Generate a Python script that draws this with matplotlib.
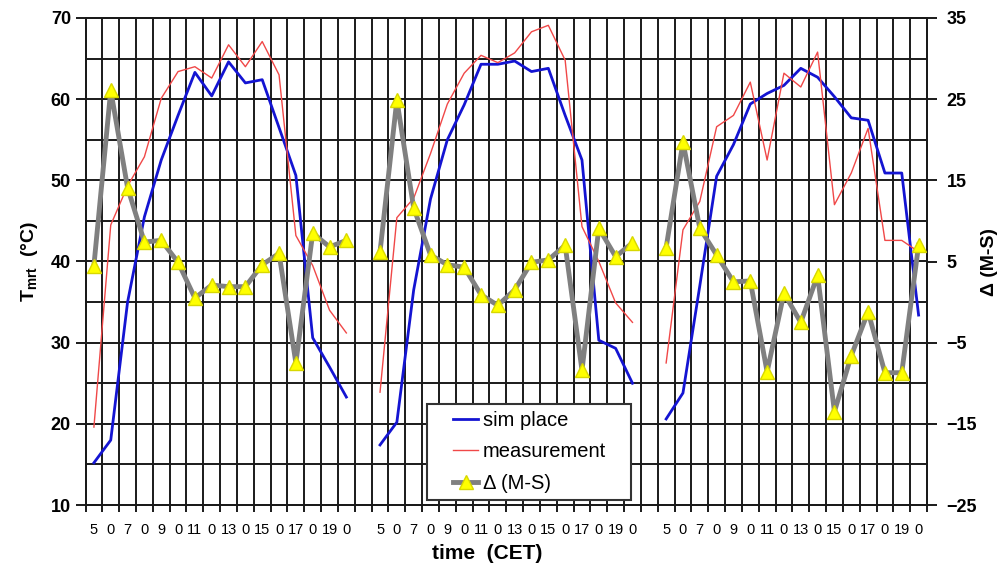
import numpy as np
import matplotlib
matplotlib.use('Agg')
from matplotlib import pyplot as plt
from matplotlib.legend_handler import HandlerLine2D

plt.rcParams['font.family'] = ['Liberation Sans', 'DejaVu Sans']
plt.rcParams['mathtext.fontset'] = 'custom'
plt.rcParams['mathtext.rm'] = 'Liberation Sans:bold'
plt.rcParams['mathtext.it'] = 'Liberation Sans:bold'
plt.rcParams['mathtext.bf'] = 'Liberation Sans:bold'

# hours 5..20 for each of the three days
hours = list(range(5, 21))
hour_labels = ['5', '0', '7', '0', '9', '0', '11', '0', '13', '0', '15', '0', '17', '0', '19', '0']

sim_day1 = [15.2, 18.0, 35.0, 45.5, 52.5, 58.0, 63.3, 60.4, 64.6, 62.0, 62.4, 56.5, 50.6, 30.6, 27.0, 23.3]
meas_day1 = [19.6, 44.5, 49.3, 52.9, 60.1, 63.4, 64.0, 62.6, 66.7, 64.0, 67.1, 63.0, 43.2, 39.5, 34.0, 31.2]
delta_day1 = [4.5, 26.1, 14.1, 7.4, 7.6, 4.9, 0.5, 2.1, 1.9, 1.9, 4.6, 6.0, -7.5, 8.5, 6.8, 7.6]

sim_day2 = [17.4, 20.2, 36.5, 47.7, 55.0, 59.3, 64.3, 64.3, 64.7, 63.4, 63.8, 58.0, 52.5, 30.3, 29.3, 25.0]
meas_day2 = [23.9, 45.4, 47.8, 53.3, 59.4, 63.2, 65.4, 64.5, 65.7, 68.3, 69.1, 64.8, 44.3, 40.0, 34.9, 32.5]
delta_day2 = [6.2, 24.9, 11.6, 5.8, 4.6, 4.3, 0.9, -0.4, 1.5, 4.9, 5.2, 7.0, -8.4, 9.1, 5.6, 7.3]

sim_day3 = [20.6, 23.8, 37.0, 50.5, 54.4, 59.4, 60.7, 61.7, 63.8, 62.7, 60.3, 57.7, 57.4, 50.9, 50.9, 33.4]
meas_day3 = [27.5, 43.9, 47.4, 56.6, 58.0, 62.1, 52.5, 63.2, 61.5, 65.8, 47.0, 50.9, 56.4, 42.6, 42.6, 41.2]
delta_day3 = [6.7, 19.7, 9.1, 5.8, 2.5, 2.6, -8.6, 1.1, -2.5, 3.3, -13.5, -6.6, -1.2, -8.7, -8.7, 7.0]

days = [(sim_day1, meas_day1, delta_day1),
        (sim_day2, meas_day2, delta_day2),
        (sim_day3, meas_day3, delta_day3)]

per_day = len(hours) + 1   # one empty slot between days
n_slots = 3 * per_day - 1


class ShiftedLine(HandlerLine2D):
    # legend line drawn a bit to the right of the handle box
    def create_artists(self, legend, orig_handle, xdescent, ydescent, width, height, fontsize, trans):
        shift = 14
        return super().create_artists(legend, orig_handle, xdescent - shift, ydescent,
                                      width - shift, height, fontsize, trans)


fig = plt.figure(figsize=(10.05, 5.64), dpi=100)
ax = fig.add_axes([85.5 / 1005, 59 / 564, 841.5 / 1005, 487 / 564])
ax2 = ax.twinx()

grid_kw = dict(color='#1a1a1a', linewidth=1.4)

for d, (sim, meas, delta) in enumerate(days):
    x = np.arange(len(hours)) + d * per_day
    l1, = ax.plot(x, sim, color='#1414d2', linewidth=2.0, zorder=3)
    l2, = ax.plot(x, meas, color='#f04848', linewidth=1.0, zorder=3)
    l3, = ax2.plot(x, delta, color='#808080', linewidth=3.5, marker='^',
                   markersize=10, markerfacecolor='#ffff00',
                   markeredgecolor='#d8d800', markeredgewidth=1.0, zorder=4)

ax.set_xlim(-0.5, n_slots - 0.5)
ax.set_ylim(10, 70)
ax2.set_ylim(-25, 35)

# x axis: labels at the slot centres, grid and ticks on the slot borders
centres = [d * per_day + i for d in range(3) for i in range(len(hours))]
ax.set_xticks(centres)
ax.set_xticklabels(hour_labels * 3, fontsize=10.5)
ax.set_xticks(np.arange(n_slots + 1) - 0.5, minor=True)
ax.tick_params(axis='x', which='major', length=0, pad=13)
ax.tick_params(axis='x', which='minor', length=5, width=1.4, direction='out', color='#1a1a1a')

ax.set_yticks(range(10, 71, 10))
ax.set_yticks(range(15, 70, 10), minor=True)
ax.tick_params(axis='y', which='major', length=7, width=1.4, labelsize=13, color='#1a1a1a')
ax.tick_params(axis='y', which='minor', length=0)
for t in ax.get_yticklabels():
    t.set_fontweight('bold')

ax2.set_yticks(range(-25, 36, 10))
ax2.tick_params(axis='y', length=7, width=1.4, labelsize=13, color='#1a1a1a', pad=7)
for t in ax2.get_yticklabels():
    t.set_fontweight('bold')

ax.grid(True, which='minor', axis='x', **grid_kw)
ax.grid(True, which='both', axis='y', **grid_kw)
ax.set_axisbelow(True)

for a in (ax, ax2):
    for s in a.spines.values():
        s.set_color('#1a1a1a')
        s.set_linewidth(1.4)

ax.set_ylabel('T$_{mrt}$  (°C)', fontsize=14, fontweight='bold', labelpad=8)
ax2.set_ylabel('Δ (M-S)', fontsize=14, fontweight='bold', labelpad=3)
ax.set_xlabel('time  (CET)', fontsize=15, fontweight='bold', labelpad=5)
ax.xaxis.label.set_x(0.477)

leg = ax2.legend([l1, l2, l3], ['sim place', 'measurement', 'Δ (M-S)'],
                 loc='lower left', bbox_to_anchor=(0.4058, 0.0103, 0.2424, 0.19),
                 mode='expand', borderaxespad=0, fontsize=14.5, fancybox=False,
                 framealpha=1, edgecolor='#333333', handlelength=2.19,
                 handletextpad=0.25, borderpad=0.35, labelspacing=0.62,
                 handler_map={l1: ShiftedLine(), l2: ShiftedLine(), l3: ShiftedLine()})
leg.get_frame().set_linewidth(1.5)
leg.set_zorder(10)

fig.savefig('out.png', dpi=100)
